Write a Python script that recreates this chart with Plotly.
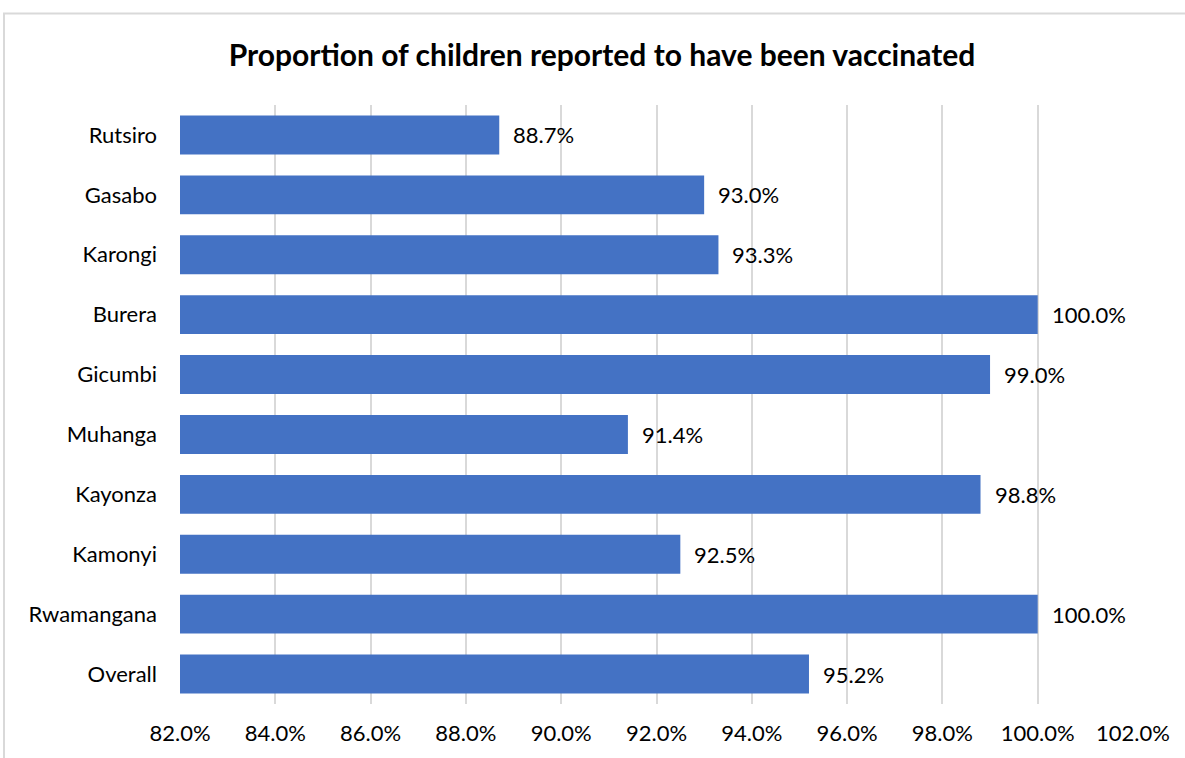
import plotly.graph_objects as go

districts = ["Rutsiro", "Gasabo", "Karongi", "Burera", "Gicumbi",
             "Muhanga", "Kayonza", "Kamonyi", "Rwamangana", "Overall"]
vaccinated_pct = [88.7, 93.0, 93.3, 100.0, 99.0, 91.4, 98.8, 92.5, 100.0, 95.2]
x_ticks = [82, 84, 86, 88, 90, 92, 94, 96, 98, 100, 102]

FONT = "Lato, 'Open Sans', sans-serif"
BAR_COLOR = "#4472C4"

fig = go.Figure(
    go.Bar(
        y=districts,
        x=vaccinated_pct,
        orientation="h",
        width=0.65,
        marker=dict(color=BAR_COLOR, line=dict(width=0)),
        hoverinfo="x+y",
    )
)

for name, val in zip(districts, vaccinated_pct):
    fig.add_annotation(
        x=val, y=name, xref="x", yref="y",
        text=f"{val:.1f}%", showarrow=False,
        xanchor="left", xshift=12,
        font=dict(family=FONT, size=22, color="#000000"),
    )

fig.update_layout(
    width=1185, height=758,
    margin=dict(l=180, r=52, t=105, b=50),
    paper_bgcolor="white", plot_bgcolor="white",
    title=dict(
        text="<b>Proportion of children reported to have been vaccinated</b>",
        x=0.508, xanchor="center", y=1 - 55 / 758, yanchor="middle",
        font=dict(family=FONT, size=30, color="#000000"),
    ),
    showlegend=False,
    bargap=0.35,
)

fig.update_xaxes(
    range=[82, 102],
    tickvals=x_ticks,
    ticktext=[f"{v:.1f}%" for v in x_ticks],
    showgrid=True, gridcolor="#D9D9D9", gridwidth=2,
    zeroline=False, showline=False,
    ticklabelstandoff=14,
    tickfont=dict(family=FONT, size=22, color="#000000"),
)

fig.update_yaxes(
    categoryorder="array", categoryarray=districts[::-1],
    showgrid=False, zeroline=False, showline=False,
    ticklabelstandoff=22,
    tickfont=dict(family=FONT, size=22, color="#000000"),
)

# Light frame around the whole chart area
fig.add_shape(
    type="rect", xref="paper", yref="paper",
    x0=-176 / 953, x1=1.1, y0=-0.2, y1=1 + 92 / 603,
    line=dict(color="#D9D9D9", width=2), fillcolor="rgba(0,0,0,0)",
    layer="below",
)

fig.write_html("out.html")
